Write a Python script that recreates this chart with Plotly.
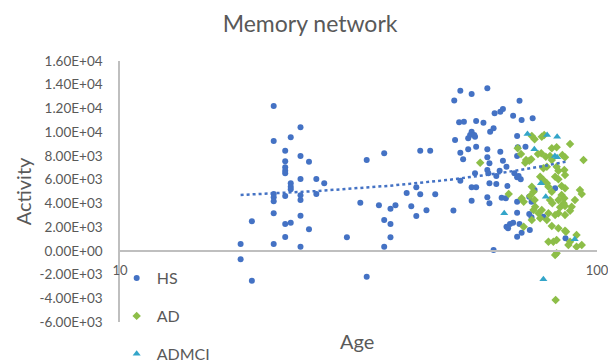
import numpy as np
import plotly.graph_objects as go

# ---------------- data ----------------
hs_age = [17.9, 17.9, 18.9, 18.9,
          21.0, 21.0, 21.0, 21.0, 21.0, 21.0, 21.0,
          22.2, 22.2, 22.2, 22.2, 22.2, 22.2, 22.2, 22.2,
          22.8, 22.8, 22.8, 22.8, 22.8,
          23.9, 23.9, 23.9, 23.9, 23.9, 23.9, 23.9,
          24.9, 24.9, 25.8, 25.8, 26.8, 29.9, 31.9, 32.9, 32.9,
          34.9, 35.8, 35.8, 35.8, 36.9, 36.9, 36.9, 37.8, 39.9, 40.8,
          41.8, 41.8, 42.6, 42.6, 43.9, 44.7, 45.8,
          50.2, 50.0, 50.4, 51.7, 51.4, 52.6, 51.7, 51.7, 52.4,
          53.7, 55.5, 53.7, 55.8, 54.6, 54.6, 54.2, 55.3,
          54.6, 55.8, 54.6, 55.5, 55.8, 57.8,
          58.9, 58.9, 58.9, 59.5, 58.9, 59.2, 58.9, 59.5, 59.5,
          59.7, 60.7, 60.7, 61.0, 62.7, 63.5, 61.5, 61.5, 62.5, 62.7, 63.5,
          63.1, 64.4, 64.6, 64.9, 64.6, 65.7, 66.7, 65.1, 66.7,
          67.1, 68.5, 69.2, 68.0, 68.0, 68.0, 68.0, 68.0, 68.0,
          68.2, 68.8, 68.8, 69.5, 69.5, 70.8,
          72.1, 72.9, 72.1, 72.9, 72.3, 73.3, 74.0, 77.2, 81.7, 85.9]
hs_activity = [573, -717, 2487, -2521,
               12207, 9256, 4788, 4510, 4173, 3161, 573,
               8438, 7545, 7039, 6752, 6533, 4620, 2259, 1163,
               9568, 5690, 5404, 5185, 2369,
               10411, 7992, 6053, 4679, 4282, 2959, 346,
               7511, 1812, 6053, 4788, 5690, 1138, 4055, 7654, -2183,
               3836, 8219, 2596, 346, 3549, 2259, 1138, 3836, 4870, 3750,
               5353, 2934, 8438, 4763, 3420, 8438, 4775,
               12680, 3400, 9340, 13497, 10833, 10883, 8270, 5909, 7713,
               9484, 9618, 8557, 8776, 13218, 10040, 9762, 9762,
               5353, 5353, 4223, 6533, 10943, 10799,
               13699, 8557, 7882, 7376, 6811, 6533, 4510, 4004, 5690,
               10040, 10327, 67, 11591, 11726, 11954, 6306, 5631, 6752, 8354, 7595,
               4476, 4426, 7090, 5463, 2032, 2259, 2369, 1897, 11389,
               6533, 6306, 6027, 6196, 9677, 7992, 4139, 3212, 1189,
               8725, 12653, 2259, 11026, 1526, 8776,
               4561, 4139, 3102, 2824, 1753, 11170, 5126, 2875, 5269, 1054]

ad_age = [56.9, 65.3, 68.2, 70.2, 69.3, 73.0, 74.0, 76.6, 77.5, 87.8,
          93.7, 70.7, 72.8, 75.2, 76.4, 78.1, 79.7, 80.4, 84.6, 85.7,
          77.2, 78.5, 82.3, 83.0, 85.4, 85.7, 81.7, 83.0, 77.2, 78.5,
          79.1, 84.3, 85.7, 80.4, 92.1, 92.9, 84.3, 85.4, 83.0, 85.1,
          83.7, 85.7, 79.7, 80.6, 73.0, 73.6, 72.4, 74.0, 69.5, 70.2,
          88.5, 89.9, 76.6, 79.1, 74.2, 75.4, 83.0, 85.7, 87.8, 81.7,
          76.0, 78.5, 80.4, 83.0, 85.7, 79.1, 81.0, 82.3, 87.1, 87.8,
          90.6, 92.9, 82.3, 81.7, 81.9, 71.0, 72.1, 73.0, 73.6, 80.4,
          82.3, 86.1, 90.6, 76.0]
ad_activity = [7427, 4788, 8641, 2032, 8160, 9678, 9400, 9619, 9762, 9003,
               7654, 7427, 7713, 8160, 8219, 7933, 7992, 7654, 8076, 7882,
               6955, 7090, 7090, 6752, 6811, 6390, 6247, 6027, 5968, 5690,
               5404, 5463, 5269, 4982, 5125, 4788, 4704, 4426, 4282, 4004,
               3667, 3777, 4282, 4004, 5404, 4982, 4620, 4282, 4426, 4139,
               3718, 4282, 3440, 3161, 3718, 3161, 3161, 3018, 3380, 3018,
               2740, 2596, 2091, 1897, 1694, 767, 767, 910, 489, 767,
               346, 489, -211, -354, -4147, 7654, 7595, 2596, 3440, 8641,
               8725, 1610, 1332, 6247]

admci_age = [71.5, 78.6, 82.5, 73.9, 81.6, 82.5, 76.3, 78.1, 63.9, 89.8, 77.2]
admci_activity = [9846, 9762, 9618, 8557, 7992, 7882, 5700, 4561, 3161, 970, -2403]

y_ticks = [16000, 14000, 12000, 10000, 8000, 6000, 4000, 2000, 0,
           -2000, -4000, -6000]
x_ticks = [10, 100]

# ---------------- figure ----------------
FONT = "Lato, 'Open Sans', sans-serif"
GREY = "#595959"
AXIS = "#BFBFBF"

fig = go.Figure()
fig.add_trace(go.Scatter(
    x=hs_age, y=hs_activity, mode="markers", name="HS", legendgroup="hs",
    marker=dict(symbol="circle", size=6, color="#4472C4")))
fig.add_trace(go.Scatter(
    x=ad_age, y=ad_activity, mode="markers", name="AD", legendgroup="ad",
    marker=dict(symbol="diamond", size=6.5, color="#8DBE48")))
fig.add_trace(go.Scatter(
    x=admci_age, y=admci_activity, mode="markers", name="ADMCI",
    legendgroup="admci",
    marker=dict(symbol="triangle-up", size=7, color="#33A5C9")))

# linear trendline of HS (as Excel draws it on a log axis)
slope, intercept = np.polyfit(hs_age, hs_activity, 1)
tx = np.geomspace(min(hs_age), max(hs_age), 80)
fig.add_trace(go.Scatter(
    x=tx, y=slope * tx + intercept, mode="lines", showlegend=False,
    line=dict(color="#4472C4", width=2.5, dash="dot"), hoverinfo="skip"))

zero_pos = (0 - y_ticks[-1]) / (y_ticks[0] - y_ticks[-1])

fig.update_layout(
    width=608, height=363,
    margin=dict(l=120, r=11, t=61, b=41, autoexpand=False),
    paper_bgcolor="white", plot_bgcolor="white",
    font=dict(family=FONT, color=GREY),
    title=dict(text="Memory network", x=0.51, xanchor="center",
               y=0.935, yanchor="middle",
               font=dict(size=23, color=GREY, family=FONT)),
    showlegend=True,
    legend=dict(x=-0.007, xanchor="left", y=0.233, yanchor="top",
                font=dict(size=16, color=GREY, family=FONT),
                bgcolor="rgba(0,0,0,0)", tracegroupgap=14,
                traceorder="grouped"),
    xaxis=dict(type="log", range=[np.log10(x_ticks[0]), np.log10(x_ticks[-1])],
               anchor="free", position=zero_pos,
               showline=True, linecolor=AXIS, linewidth=1.5,
               showgrid=False, zeroline=False, ticks="",
               tickvals=x_ticks, ticktext=[str(v) for v in x_ticks],
               ticklabelstandoff=8, ticklabeloverflow="allow",
               tickfont=dict(size=13, color=GREY)),
    yaxis=dict(range=[y_ticks[-1], y_ticks[0]],
               showline=True, linecolor=AXIS, linewidth=1.5,
               showgrid=False, zeroline=False, ticks="",
               tickvals=y_ticks,
               ticktext=[f"{v:.2E}" for v in y_ticks],
               ticklabelstandoff=13,
               tickfont=dict(size=13.5, color=GREY),
               title=dict(text="Activity", standoff=3,
                          font=dict(size=20, color=GREY))),
    annotations=[dict(text="Age", xref="paper", yref="paper",
                      x=0.497, y=-0.074, xanchor="center", yanchor="middle",
                      showarrow=False, font=dict(size=20, color=GREY))],
)

fig.write_html(
    "out.html",
    config={"displayModeBar": False},
    post_script="document.body.style.margin='0px';"
                "document.body.style.overflow='hidden';")
